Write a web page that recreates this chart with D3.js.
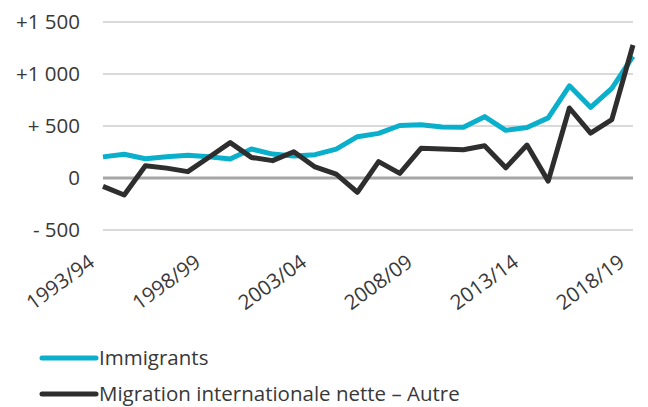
<!DOCTYPE html>
<html>
<head>
<meta charset="utf-8">
<script src="https://cdn.jsdelivr.net/npm/d3@7"></script>
<style>
  body { margin: 0; background: #fff; }
  text { font-family: "Open Sans", sans-serif; fill: #383838; }
</style>
</head>
<body>
<div id="chart"></div>
<script>
// fiscal years shown on the x axis
const years = ["1993/94", "1994/95", "1995/96", "1996/97", "1997/98", "1998/99", "1999/00", "2000/01",
  "2001/02", "2002/03", "2003/04", "2004/05", "2005/06", "2006/07", "2007/08", "2008/09", "2009/10",
  "2010/11", "2011/12", "2012/13", "2013/14", "2014/15", "2015/16", "2016/17", "2017/18", "2018/19"];
const tickYears = ["1993/94", "1998/99", "2003/04", "2008/09", "2013/14", "2018/19"];

// values
const immigrants = [203, 228, 185, 205, 218, 205, 183, 279, 230, 212, 224, 278, 397, 429, 505, 512,
  490, 488, 590, 458, 486, 578, 886, 680, 862, 1170];
const otherNet = [-80, -163, 118, 95, 61, 200, 340, 198, 167, 253, 106, 37, -137, 158, 45, 285,
  280, 272, 310, 98, 317, -30, 673, 432, 561, 1279];

const yTicks = [-500, 0, 500, 1000, 1500];
const yTickLabels = ["- 500", "0", "+ 500", "+1 000", "+1 500"];

const seriesNames = ["Immigrants", "Migration internationale nette \u2013 Autre"];
const seriesColors = ["#0aafcb", "#2e2e2e"];

const width = 648, height = 407;
const fontSize = "20.5px";

const svg = d3.select("#chart")
    .append("svg")
    .attr("width", width)
    .attr("height", height);

const x = d3.scalePoint()
    .domain(years)
    .range([103, 633]);

const y = d3.scaleLinear()
    .domain([-500, 1500])
    .range([230, 22]);

// horizontal gridlines, zero line drawn darker
svg.append("g")
    .selectAll("line")
    .data(yTicks)
    .enter()
    .append("line")
    .attr("x1", x.range()[0])
    .attr("x2", x.range()[1])
    .attr("y1", d => y(d))
    .attr("y2", d => y(d))
    .attr("stroke", d => d === 0 ? "#a6a6a6" : "#d9d9d9")
    .attr("stroke-width", d => d === 0 ? 3 : 2);

// y tick labels
svg.append("g")
    .selectAll("text")
    .data(yTicks)
    .enter()
    .append("text")
    .attr("x", 80)
    .attr("y", d => y(d))
    .attr("dy", "0.36em")
    .attr("text-anchor", "end")
    .style("font-size", fontSize)
    .text((d, i) => yTickLabels[i]);

// x tick labels, rotated
svg.append("g")
    .selectAll("text")
    .data(tickYears)
    .enter()
    .append("text")
    .attr("transform", d => `translate(${x(d) - 7},265) rotate(-36)`)
    .attr("text-anchor", "end")
    .style("font-size", fontSize)
    .text(d => d);

// the two series
const line = d3.line()
    .x((d, i) => x(years[i]))
    .y(d => y(d));

svg.append("g")
    .selectAll("path")
    .data([immigrants, otherNet])
    .enter()
    .append("path")
    .attr("d", line)
    .attr("fill", "none")
    .attr("stroke", (d, i) => seriesColors[i])
    .attr("stroke-width", 5)
    .attr("stroke-linejoin", "round");

// legend
const legend = svg.append("g")
    .selectAll("g")
    .data(seriesNames)
    .enter()
    .append("g")
    .attr("transform", (d, i) => `translate(0,${358 + i * 36})`);

legend.append("line")
    .attr("x1", 42)
    .attr("x2", 96)
    .attr("stroke", (d, i) => seriesColors[i])
    .attr("stroke-width", 5)
    .attr("stroke-linecap", "round");

legend.append("text")
    .attr("x", 99)
    .attr("dy", "0.34em")
    .style("font-size", fontSize)
    .text(d => d);
</script>
</body>
</html>
